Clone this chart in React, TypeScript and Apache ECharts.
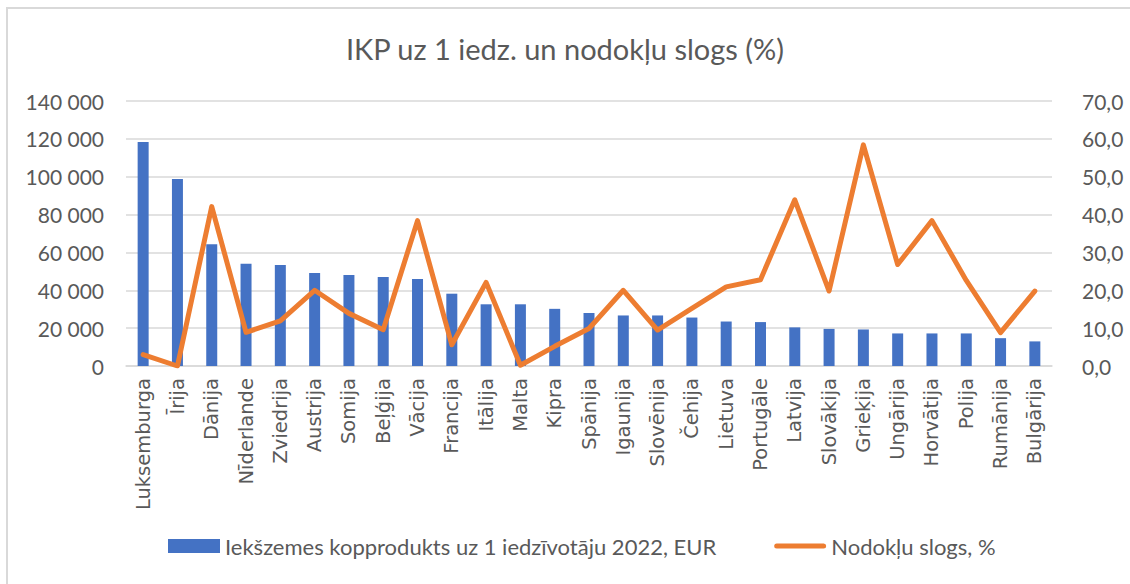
import React, { useEffect, useRef } from "react";
import * as echarts from "echarts";

const categories = [
  "Luksemburga", "Īrija", "Dānija", "Nīderlande", "Zviedrija", "Austrija", "Somija",
  "Beļģija", "Vācija", "Francija", "Itālija", "Malta", "Kipra", "Spānija", "Igaunija",
  "Slovēnija", "Čehija", "Lietuva", "Portugāle", "Latvija", "Slovākija", "Grieķija",
  "Ungārija", "Horvātija", "Polija", "Rumānija", "Bulgārija",
];

const gdpPerCapita = [
  118300, 98800, 64300, 54000, 53300, 49100, 48100,
  47000, 46000, 38200, 32600, 32600, 30200, 28000, 26700,
  26700, 25600, 23500, 23200, 20400, 19600, 19300,
  17200, 17200, 17200, 14700, 13000,
];

const taxBurden = [
  3.0, 0.0, 42.1, 8.9, 11.9, 20.0, 13.9,
  9.6, 38.4, 5.6, 22.1, 0.2, 5.2, 9.9, 20.0,
  9.5, 15.2, 20.9, 22.8, 43.9, 19.8, 58.4,
  26.8, 38.4, 22.6, 8.8, 19.8,
];

const leftTicks = { min: 0, max: 140000, interval: 20000 };
const rightTicks = { min: 0, max: 70, interval: 10 };

const titleText = "IKP uz 1 iedz. un nodokļu slogs (%)";
const barName = "Iekšzemes kopprodukts uz 1 iedzīvotāju 2022, EUR";
const lineName = "Nodokļu slogs, %";

const FONT = "Lato, 'Liberation Sans', sans-serif";
const GRAY = "#595959";

export default function App() {
  const ref = useRef<HTMLDivElement>(null);

  useEffect(() => {
    document.body.style.margin = "0";
    if (!ref.current) return;
    const chart = echarts.init(ref.current, null, { renderer: "svg" });
    chart.setOption({
      animation: false,
      backgroundColor: "#ffffff",
      graphic: [
        {
          type: "rect",
          shape: { x: 7, y: 8, width: 1300, height: 800 },
          style: { fill: "none", stroke: "#d9d9d9", lineWidth: 2 },
          silent: true,
        },
      ],
      title: {
        text: titleText,
        left: "center",
        top: 29,
        textStyle: { fontFamily: FONT, fontSize: 29, fontWeight: "normal", color: GRAY },
      },
      legend: {
        bottom: 22,
        left: 163,
        itemWidth: 52,
        itemHeight: 14,
        itemGap: 58,
        textStyle: { fontFamily: FONT, fontSize: 22, color: GRAY },
        data: [
          { name: barName, icon: "rect" },
          {
            name: lineName,
            icon: "path://M0,0M52,14M2.5,4.5h47a2.5,2.5 0 0 1 0,5h-47a2.5,2.5 0 0 1 0,-5z",
          },
        ],
      },
      grid: { left: 126, right: 78, top: 101, bottom: 218 },
      xAxis: {
        type: "category",
        data: categories,
        axisLine: { lineStyle: { color: "#d9d9d9", width: 1.5 } },
        axisTick: { show: false },
        axisLabel: {
          interval: 0,
          rotate: 90,
          margin: 12,
          fontFamily: "'DejaVu Sans', sans-serif",
          fontSize: 19.5,
          color: GRAY,
        },
      },
      yAxis: [
        {
          type: "value",
          ...leftTicks,
          axisLine: { show: false },
          axisTick: { show: false },
          splitLine: { lineStyle: { color: "#d9d9d9", width: 1.5 } },
          axisLabel: {
            fontFamily: FONT,
            fontSize: 21,
            color: GRAY,
            margin: 22,
            formatter: (v: number) => String(v).replace(/\B(?=(\d{3})+(?!\d))/g, " "),
          },
        },
        {
          type: "value",
          ...rightTicks,
          axisLine: { show: false },
          axisTick: { show: false },
          splitLine: { show: false },
          axisLabel: {
            fontFamily: FONT,
            fontSize: 21,
            color: GRAY,
            margin: 30,
            formatter: (v: number) => v.toFixed(1).replace(".", ","),
          },
        },
      ],
      series: [
        {
          name: barName,
          type: "bar",
          data: gdpPerCapita,
          barWidth: 11,
          itemStyle: { color: "#4472C4" },
        },
        {
          name: lineName,
          type: "line",
          yAxisIndex: 1,
          data: taxBurden,
          symbol: "none",
          lineStyle: { color: "#ED7D31", width: 5, join: "round", cap: "round" },
          itemStyle: { color: "#ED7D31" },
          z: 3,
        },
      ],
    });
    return () => chart.dispose();
  }, []);

  return <div ref={ref} style={{ width: 1130, height: 584 }} />;
}
